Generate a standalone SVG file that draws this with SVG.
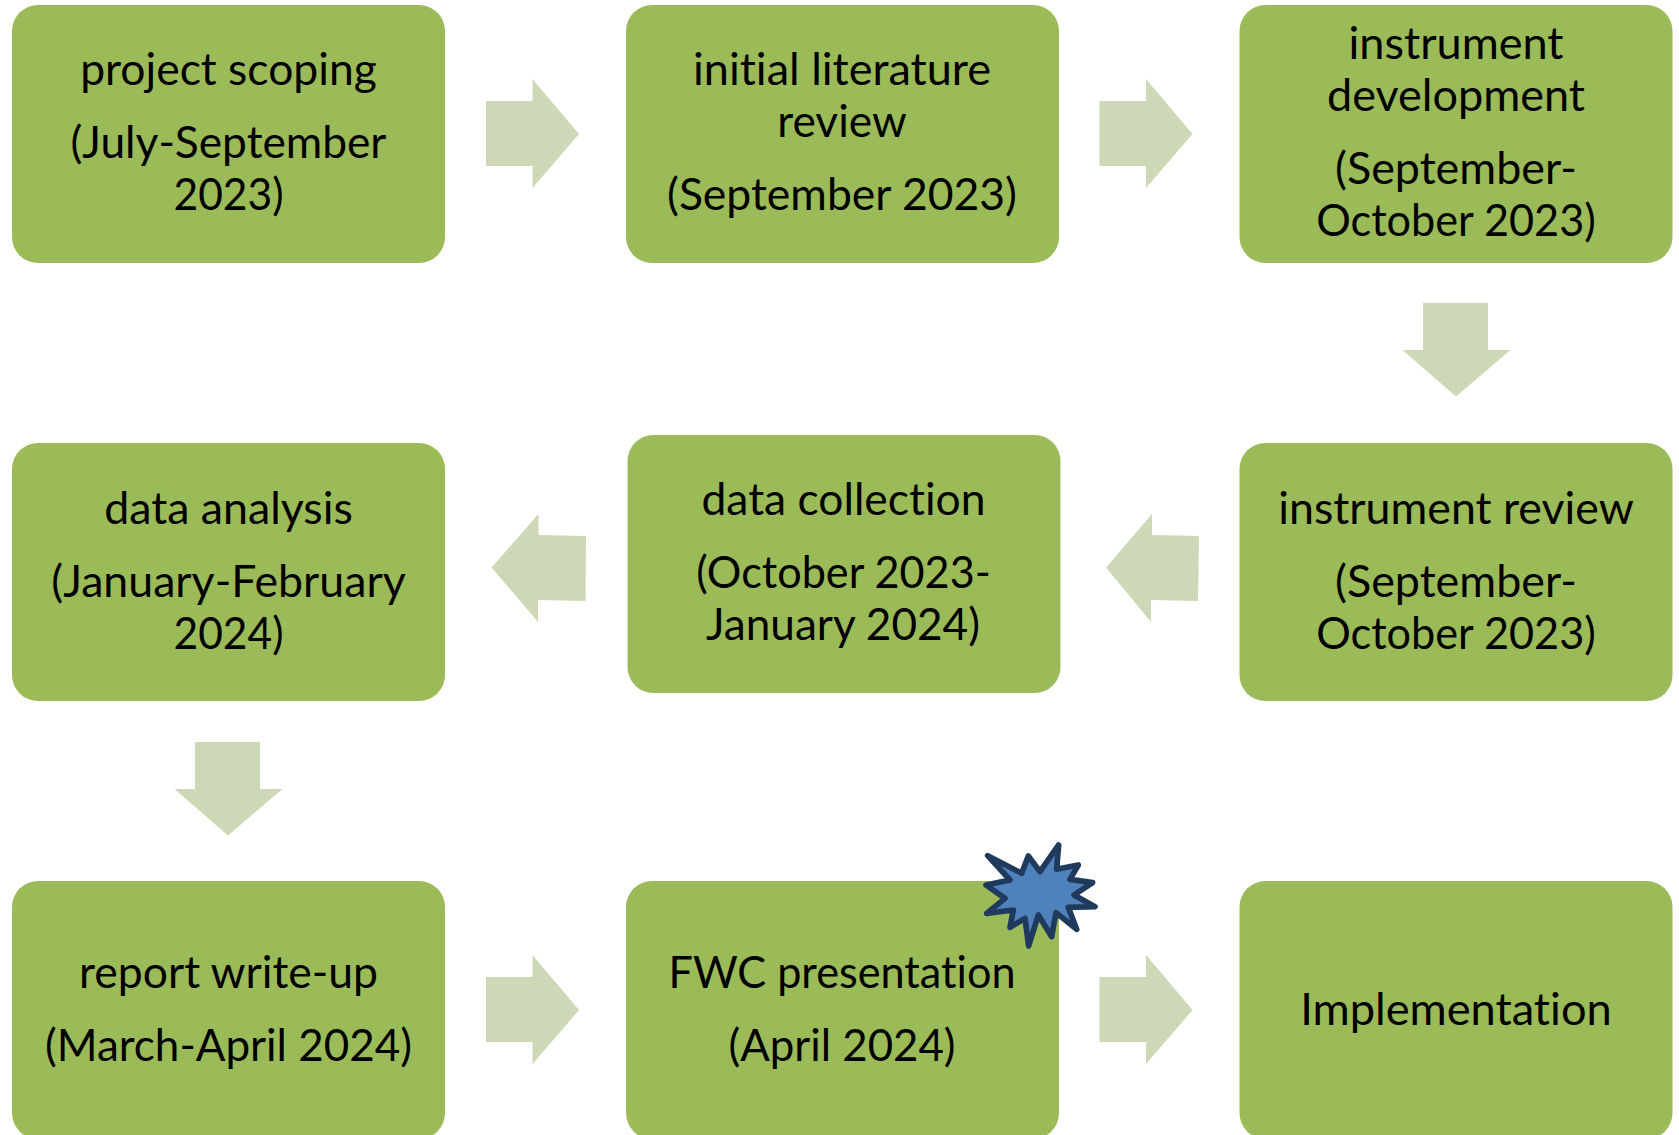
<svg xmlns="http://www.w3.org/2000/svg" width="1679" height="1135" viewBox="0 0 1679 1135">
<style>
.b{fill:#9BBB59}
.a{fill:#CDD9B6}
text{font-family:"Lato","Carlito","Liberation Sans",sans-serif;font-size:44.3px;fill:#000;text-anchor:middle;font-variant-ligatures:none}
</style>
<defs>
<path id="r" d="M486 101H532.500V79L579 134L532.500 188V166H486Z"/>
<path id="d" d="M1423 303H1488V350H1510.500L1456 396.500L1402.500 350H1423Z"/>
</defs>
<rect width="1679" height="1135" fill="#fff"/>
<g id="connectors">
<use href="#r" class="a"/>
<use href="#r" class="a" x="613.500"/>
<use href="#d" class="a"/>
<path class="a" d="M1199 536L1152 535V514L1106 567.500L1151 622V600L1198 601Z"/>
<path class="a" d="M586 536L538.500 535V514L491.500 567.500L538 622V600L585.500 601Z"/>
<use href="#d" class="a" x="-1228" y="439"/>
<use href="#r" class="a" y="876"/>
<use href="#r" class="a" x="613.500" y="876"/>
</g>
<g id="n1"><rect class="b" x="12" y="5" width="433" height="258" rx="26"/><text x="228.500" y="84.500" textLength="296.600" lengthAdjust="spacingAndGlyphs">project scoping</text><text x="228.500" y="157.500" textLength="316" lengthAdjust="spacingAndGlyphs">(July-September</text><text x="228.500" y="210" textLength="110" lengthAdjust="spacingAndGlyphs">2023)</text></g>
<g id="n2"><rect class="b" x="626" y="5" width="433" height="258" rx="26"/><text x="842" y="84.500" textLength="298" lengthAdjust="spacingAndGlyphs">initial literature</text><text x="842" y="137" textLength="129.500" lengthAdjust="spacingAndGlyphs">review</text><text x="842" y="210" textLength="350" lengthAdjust="spacingAndGlyphs">(September 2023)</text></g>
<g id="n3"><rect class="b" x="1239.500" y="5" width="433" height="258" rx="26"/><text x="1456" y="58.500" textLength="215" lengthAdjust="spacingAndGlyphs">instrument</text><text x="1456" y="110.500" textLength="258" lengthAdjust="spacingAndGlyphs">development</text><text x="1456" y="184" textLength="242" lengthAdjust="spacingAndGlyphs">(September-</text><text x="1456" y="236" textLength="279.500" lengthAdjust="spacingAndGlyphs">October 2023)</text></g>
<g id="n4"><rect class="b" x="1239.500" y="443" width="433" height="258" rx="26"/><text x="1456" y="523.500" textLength="355.500" lengthAdjust="spacingAndGlyphs">instrument review</text><text x="1456" y="596.500" textLength="242" lengthAdjust="spacingAndGlyphs">(September-</text><text x="1456" y="648.500" textLength="279.500" lengthAdjust="spacingAndGlyphs">October 2023)</text></g>
<g id="n5"><rect class="b" x="627.500" y="435" width="433" height="258" rx="26"/><text x="843.500" y="515" textLength="284" lengthAdjust="spacingAndGlyphs">data collection</text><text x="843.500" y="588" textLength="294.500" lengthAdjust="spacingAndGlyphs">(October 2023-</text><text x="843" y="640" textLength="274" lengthAdjust="spacingAndGlyphs">January 2024)</text></g>
<g id="n6"><rect class="b" x="12" y="443" width="433" height="258" rx="26"/><text x="228.500" y="523.500" textLength="248.500" lengthAdjust="spacingAndGlyphs">data analysis</text><text x="228.500" y="596.500" textLength="354.500" lengthAdjust="spacingAndGlyphs">(January-February</text><text x="228.500" y="648.500" textLength="110" lengthAdjust="spacingAndGlyphs">2024)</text></g>
<g id="n7"><rect class="b" x="12" y="881" width="433" height="258" rx="26"/><text x="228.500" y="987.500" textLength="299" lengthAdjust="spacingAndGlyphs">report write-up</text><text x="228.500" y="1060.500" textLength="367" lengthAdjust="spacingAndGlyphs">(March-April 2024)</text></g>
<g id="n8"><rect class="b" x="626" y="881" width="433" height="258" rx="26"/><text x="842" y="987.500" textLength="347" lengthAdjust="spacingAndGlyphs">FWC presentation</text><text x="842" y="1060.500" textLength="227" lengthAdjust="spacingAndGlyphs">(April 2024)</text></g>
<g id="n9"><rect class="b" x="1239.500" y="881" width="433" height="258" rx="26"/><text x="1456" y="1024.500" textLength="311.600" lengthAdjust="spacingAndGlyphs">Implementation</text></g>
<g id="star"><path transform="translate(950 820) scale(.3333)" fill="#4F81BD" stroke="#1F3A5C" stroke-width="17" stroke-linejoin="round" d="M113 107L215 160L235 108L270 155L326 75L320 148L385 135L360 178L428 188L372 225L435 260L355 262L380 328L318 278L305 350L265 285L236 378L225 295L180 322L190 270L110 280L165 235L108 195L180 180Z"/></g>
</svg>
